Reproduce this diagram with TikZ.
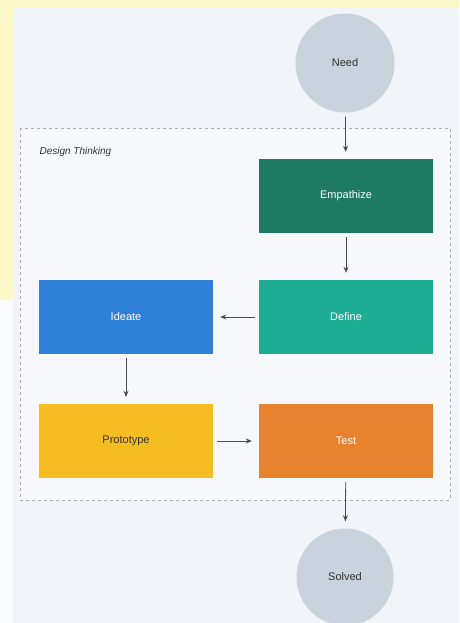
\documentclass[tikz,border=0pt]{standalone}
\usepackage{fontspec}
\setmainfont{Liberation Sans}
\usepackage{tikz}
\usetikzlibrary{calc,arrows.meta}

\definecolor{fonbg}{HTML}{F1F4F8}
\definecolor{fonyel}{HTML}{FDF8C8}
\definecolor{krug}{HTML}{C9D3DD}
\definecolor{ramka}{HTML}{A9AFB7}
\definecolor{tempath}{HTML}{1F7A63}
\definecolor{tdefine}{HTML}{1DAD93}
\definecolor{tideate}{HTML}{2E80D9}
\definecolor{tproto}{HTML}{F6BD22}
\definecolor{ttest}{HTML}{E9822F}
\definecolor{strelka}{HTML}{4A4A4A}

\tikzset{
	shag/.style={rectangle, minimum width=174pt, minimum height=74pt, text=white,
		font=\fontsize{11}{13}\selectfont, inner sep=0pt},
	krugl/.style={circle, fill=krug, minimum size=99pt, inner sep=0pt,
		text=black!80, font=\fontsize{11}{13}\selectfont},
	perehod/.style={->, strelka, line width=0.8pt, shorten <=4pt, shorten >=7pt}
}

\begin{document}
\begin{tikzpicture}[x=1pt, y=-1pt, >={Stealth[length=6pt,width=5pt]}]
	% Фон
	\useasboundingbox (0,0) rectangle (459,623);
	\fill[fonyel] (0,0) rectangle (459,623);
	\fill[fonbg] (13,8) rectangle (459,623);
	\fill[white!60!fonbg] (0,300) rectangle (13,623);
	% Подграф
	\draw[ramka, dashed, fill=fonbg!60!white] (20,128) rectangle (450,500);
	\node[anchor=west, font=\itshape\fontsize{10}{12}\selectfont, text=black!80] (zagolovok) at (36,152) {Design Thinking};
	% Определение узлов
	\node[krugl] (need) at (345,63) {Need};
	\node[shag, fill=tempath] (empathize) at (346,196) {Empathize};
	\node[shag, fill=tdefine] (define) at (346,317) {Define};
	\node[shag, fill=tideate] (ideate) at (126,317) {Ideate};
	\node[shag, fill=tproto, text=black!80] (prototype) at (126,441) {Prototype};
	\node[shag, fill=ttest] (test) at (346,441) {Test};
	\node[krugl, minimum size=97pt] (solved) at (345,577) {Solved};
	% Рисование переходов
	\draw[perehod] (need) -- (empathize);
	\draw[perehod] (empathize) -- (define);
	\draw[perehod] (define) -- (ideate);
	\draw[perehod] (ideate) -- (prototype);
	\draw[perehod] (prototype) -- (test);
	\draw[perehod] (test) -- (solved);
\end{tikzpicture}
\end{document}
